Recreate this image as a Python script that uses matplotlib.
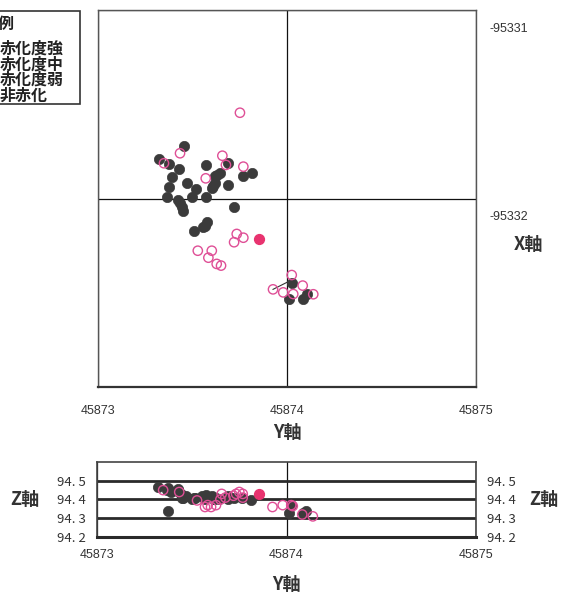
import matplotlib
matplotlib.use("Agg")
import matplotlib.pyplot as plt
import matplotlib.transforms as mtransforms
from matplotlib.patches import Rectangle
from matplotlib import font_manager

plt.rcParams['font.family'] = ['Noto Sans CJK JP', 'DejaVu Sans']

# ---------------- data ----------------
# 非赤化 (dark, filled)
dark_y = [45873.455, 45873.323, 45873.377, 45873.430, 45873.393, 45873.377, 45873.472,
          45873.517, 45873.499, 45873.367, 45873.425, 45873.434, 45873.443, 45873.451,
          45873.571, 45873.571, 45873.610, 45873.619, 45873.605, 45873.628, 45873.646,
          45873.619, 45873.689, 45873.689, 45873.766, 45873.813, 45873.721, 45873.575,
          45873.566, 45873.554, 45873.510, 45874.025, 45874.012, 45874.104, 45874.086]
dark_x = [-95331.720, -95331.790, -95331.817, -95331.845, -95331.888, -95331.937, -95331.919,
          -95331.951, -95331.990, -95331.994, -95332.008, -95332.025, -95332.044, -95332.065,
          -95331.822, -95331.994, -95331.934, -95331.919, -95331.943, -95331.875, -95331.866,
          -95331.881, -95331.813, -95331.928, -95331.881, -95331.866, -95332.044, -95332.123,
          -95332.146, -95332.150, -95332.171, -95332.448, -95332.535, -95332.507, -95332.535]
dark_z = [94.41, 94.465, 94.46, 94.45, 94.44, 94.34, 94.42,
          94.41, 94.40, 94.45, 94.455, 94.44, 94.43, 94.41,
          94.42, 94.40, 94.41, 94.40, 94.42, 94.41, 94.40,
          94.405, 94.42, 94.40, 94.41, 94.395, 94.41, 94.425,
          94.41, 94.42, 94.41, 94.37, 94.33, 94.34, 94.33]

# 赤化度弱 (pink, hollow)
weak_y = [45873.751, 45873.434, 45873.349, 45873.658, 45873.677, 45873.769, 45873.570,
          45873.734, 45873.769, 45873.720, 45873.528, 45873.602, 45873.584, 45873.628,
          45873.651, 45874.025, 45873.926, 45873.980, 45874.033, 45874.083, 45874.139]
weak_x = [-95331.545, -95331.760, -95331.813, -95331.773, -95331.822, -95331.831, -95331.893,
          -95332.188, -95332.208, -95332.232, -95332.277, -95332.277, -95332.314, -95332.347,
          -95332.356, -95332.406, -95332.482, -95332.498, -95332.507, -95332.462, -95332.508]
weak_z = [94.44, 94.44, 94.45, 94.43, 94.41, 94.43, 94.36,
          94.43, 94.41, 94.42, 94.395, 94.36, 94.37, 94.37,
          94.40, 94.37, 94.36, 94.37, 94.365, 94.32, 94.31]

# 赤化度中 (pink, filled)
mid_y = [45873.853]
mid_x = [-95332.215]
mid_z = [94.43]

# connector segment
seg_y = [45873.926, 45874.025]
seg_x = [-95332.482, -95332.432]

legend_title = '凡例'
legend_labels = ['赤化度強', '赤化度中', '赤化度弱', '非赤化']
y_ticks = [45873, 45874, 45875]
x_ticks = [-95333, -95332, -95331]
x_tick_labels = ['', '-95332', '-95331']
z_ticks = [94.2, 94.3, 94.4, 94.5]
z_tick_labels = ['94. 2', '94. 3', '94. 4', '94. 5']

# ---------------- style ----------------
DARK = '#3b3b3b'
PINK = '#df4f96'
PINK_F = '#e8336f'
TXT = '#333333'
W, H = 564, 598
fig = plt.figure(figsize=(W / 100, H / 100), dpi=100)
fig.patch.set_facecolor('white')

def fx(px):
    return px / W

def fy(py):
    return 1 - py / H

installed = {f.name for f in font_manager.fontManager.ttflist}
num_font = ['Liberation Sans Narrow'] if 'Liberation Sans Narrow' in installed else ['Liberation Sans']
num_size = 10 if num_font[0].endswith('Narrow') else 9

# ---------------- main XY plot ----------------
ax = fig.add_axes([fx(98), fy(387), fx(476) - fx(98), fy(10) - fy(387)])
ax.set_xlim(45873, 45875)
ax.set_ylim(-95333, -95331)
ax.set_xticks(y_ticks)
ax.set_xticklabels([str(v) for v in y_ticks], family=num_font, fontsize=num_size, color=TXT)
ax.yaxis.tick_right()
ax.set_yticks(x_ticks)
ax.set_yticklabels(x_tick_labels, family=num_font, fontsize=num_size, color=TXT)
ax.tick_params(axis='both', length=0)
ax.tick_params(axis='x', pad=13)
ax.tick_params(axis='y', pad=10)
off = mtransforms.ScaledTranslation(0, -0.175, fig.dpi_scale_trans)
for lab in ax.get_yticklabels():
    lab.set_transform(lab.get_transform() + off)
ax.grid(True, color='#111111', linewidth=0.9)
ax.set_axisbelow(True)
for s in ax.spines.values():
    s.set_color('#555555')
    s.set_linewidth(1.0)
ax.spines['bottom'].set_linewidth(1.6)
ax.spines['bottom'].set_color('#333333')

ax.plot(seg_y, seg_x, color='#333333', linewidth=0.8, zorder=2)
ax.scatter(dark_y, dark_x, s=55, color=DARK, edgecolors=DARK, linewidths=0.5, zorder=3)
ax.scatter(weak_y, weak_x, s=45, facecolors='none', edgecolors=PINK, linewidths=1.0, zorder=4)
ax.scatter(mid_y, mid_x, s=50, color=PINK_F, edgecolors=PINK_F, zorder=4)

ax.set_xlabel('Y軸', fontsize=13, fontweight='bold', color=TXT, labelpad=4)
ax.yaxis.set_label_position('right')
ax.set_ylabel('X軸', fontsize=13, fontweight='bold', color=TXT, rotation=0,
              va='center', ha='center')
ax.yaxis.set_label_coords(1.14, (387 - 245) / 377)

# ---------------- bottom YZ plot ----------------
ax2 = fig.add_axes([fx(97), fy(537), fx(476) - fx(97), fy(462) - fy(537)])
ax2.set_xlim(45873, 45875)
ax2.set_ylim(94.2, 94.6)
ax2.set_xticks(y_ticks)
ax2.set_xticklabels([str(v) for v in y_ticks], family=num_font, fontsize=num_size, color=TXT)
ax2.set_yticks(z_ticks)
ax2.set_yticklabels(z_tick_labels, fontsize=9.5, color=TXT)
ax2.tick_params(axis='both', length=0)
ax2.tick_params(axis='x', pad=9)
ax2.tick_params(axis='y', pad=8, labelright=True)
ax2.grid(True, axis='y', color='#2a2a2a', linewidth=2.0)
ax2.grid(True, axis='x', color='#111111', linewidth=0.9)
ax2.set_axisbelow(True)
for s in ax2.spines.values():
    s.set_color('#444444')
    s.set_linewidth(1.2)
ax2.spines['bottom'].set_linewidth(2.2)
ax2.spines['bottom'].set_color('#2a2a2a')

ax2.scatter(dark_y, dark_z, s=55, color=DARK, edgecolors=DARK, linewidths=0.5, zorder=3)
ax2.scatter(weak_y, weak_z, s=45, facecolors='none', edgecolors=PINK, linewidths=1.0, zorder=4)
ax2.scatter(mid_y, mid_z, s=50, color=PINK_F, edgecolors=PINK_F, zorder=4)

ax2.set_xlabel('Y軸', fontsize=13, fontweight='bold', color=TXT, labelpad=10)
ax2.set_ylabel('Z軸', fontsize=13, fontweight='bold', color=TXT, rotation=0,
               va='center', ha='center')
ax2.yaxis.set_label_coords(-0.19, 0.5)
ax2.text(1.18, 0.5, 'Z軸', transform=ax2.transAxes, fontsize=13, fontweight='bold',
         color=TXT, va='center', ha='center')

# ---------------- legend box (partly cut at left edge, as in the reference) ----------------
fig.patches.append(Rectangle((fx(-30), fy(104)), fx(110), fy(11) - fy(104),
                             transform=fig.transFigure, facecolor='white',
                             edgecolor='#333333', linewidth=1.2))
fig.text(fx(-17), fy(24), legend_title, fontsize=11.5, fontweight='bold',
         color='#222222', ha='left', va='center')
fig.text(fx(0), fy(72), '\n'.join(legend_labels), fontsize=11.5, fontweight='bold',
         color='#222222', ha='left', va='center', linespacing=0.98)

fig.savefig('out.png', dpi=100, facecolor='white')
